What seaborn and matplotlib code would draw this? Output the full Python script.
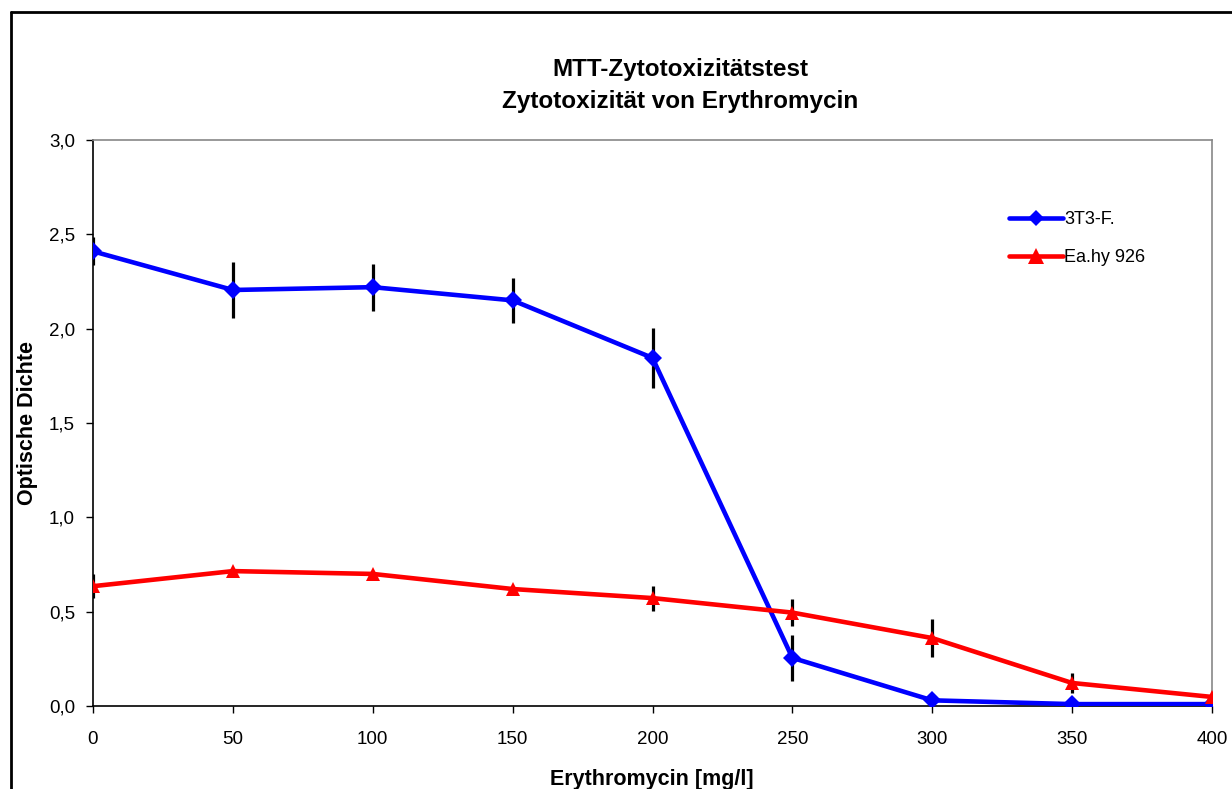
import matplotlib
matplotlib.use("Agg")
import matplotlib.pyplot as plt
import matplotlib.ticker as mticker
from matplotlib.lines import Line2D
import seaborn as sns
import pandas as pd

conc = [0, 50, 100, 150, 200, 250, 300, 350, 400]
od_3t3 = [2.41, 2.205, 2.22, 2.15, 1.845, 0.255, 0.03, 0.01, 0.01]
err_3t3 = [0.075, 0.15, 0.125, 0.12, 0.16, 0.12, 0.0, 0.0, 0.0]
od_ea = [0.635, 0.715, 0.70, 0.62, 0.572, 0.495, 0.36, 0.122, 0.048]
err_ea = [0.065, 0.0, 0.0, 0.0, 0.066, 0.07, 0.1, 0.053, 0.0]
series_names = ["3T3-F.", "Ea.hy 926"]
title_lines = ["MTT-Zytotoxizitätstest", "Zytotoxizität von Erythromycin"]
xlabel = "Erythromycin [mg/l]"
ylabel = "Optische Dichte"

sns.set_style("white")
plt.rcParams['font.family'] = ['Liberation Sans', 'DejaVu Sans']
plt.rcParams['text.color'] = 'black'
plt.rcParams['axes.labelcolor'] = 'black'

df = pd.DataFrame({
    "conc": conc * 2,
    "od": od_3t3 + od_ea,
    "series": [series_names[0]] * len(conc) + [series_names[1]] * len(conc),
})

fig = plt.figure(figsize=(12.32, 7.89), dpi=100)
ax = fig.add_axes([93 / 1232, 1 - 706 / 789, (1212 - 93) / 1232, (706 - 140) / 789])

# error bars (black, no caps)
ax.errorbar(conc, od_3t3, yerr=err_3t3, fmt='none', ecolor='black', elinewidth=2.3, capsize=0, zorder=2)
ax.errorbar(conc, od_ea, yerr=err_ea, fmt='none', ecolor='black', elinewidth=2.3, capsize=0, zorder=2)

colors = {series_names[0]: "#0000FF", series_names[1]: "#FF0000"}
sns.lineplot(data=df, x="conc", y="od", hue="series", palette=colors,
             style="series", markers={series_names[0]: "D", series_names[1]: "^"},
             dashes=False, linewidth=3.3, markersize=9.5, markeredgewidth=0,
             ax=ax, legend=False, zorder=3)

ax.set_xlim(0, 400)
ax.set_ylim(0, 3.0)
ax.set_xticks(conc)
ax.set_yticks([0, 0.5, 1.0, 1.5, 2.0, 2.5, 3.0])
ax.yaxis.set_major_formatter(mticker.FuncFormatter(lambda v, p: f"{v:.1f}".replace(".", ",")))
ax.tick_params(axis='both', direction='out', length=5, width=1, colors='black',
               labelsize=13.5, left=True, bottom=True, pad=8)
ax.tick_params(axis='x', pad=13)
for s in ['top', 'right']:
    ax.spines[s].set_color('#888888')
    ax.spines[s].set_linewidth(1.2)
for s in ['left', 'bottom']:
    ax.spines[s].set_color('black')
    ax.spines[s].set_linewidth(1.2)

ax.set_xlabel(xlabel, fontsize=15.5, fontweight='bold', color='black')
ax.xaxis.set_label_coords((652 - 93) / 1119, -(769 - 706) / 566)
ax.set_ylabel(ylabel, fontsize=15.5, fontweight='bold', color='black')
ax.yaxis.set_label_coords(-(93 - 38) / 1119, 0.5)
ax.set_title("\n".join(title_lines), fontsize=17.5, fontweight='bold', pad=23,
             linespacing=1.5, x=(680 - 93) / 1119, color='black')

handles = [
    Line2D([0], [0], color=colors[series_names[0]], lw=3.3, marker='D', markersize=8, markeredgewidth=0),
    Line2D([0], [0], color=colors[series_names[1]], lw=3.3, marker='^', markersize=11, markeredgewidth=0),
]
leg = fig.legend(handles, series_names, loc='upper left', bbox_to_anchor=(993 / 1232, 1 - 195 / 789),
                 frameon=False, fontsize=13, handlelength=3.0, handletextpad=0.05, labelspacing=1.15)
for t in leg.get_texts():
    t.set_color('black')

# outer frame (top and left edges visible)
fig.add_artist(Line2D([10.5 / 1232, 10.5 / 1232], [0, 1 - 12 / 789], color='black', lw=2, transform=fig.transFigure))
fig.add_artist(Line2D([10.5 / 1232, 1], [1 - 12 / 789, 1 - 12 / 789], color='black', lw=2, transform=fig.transFigure))

fig.savefig("out.png", dpi=100)
